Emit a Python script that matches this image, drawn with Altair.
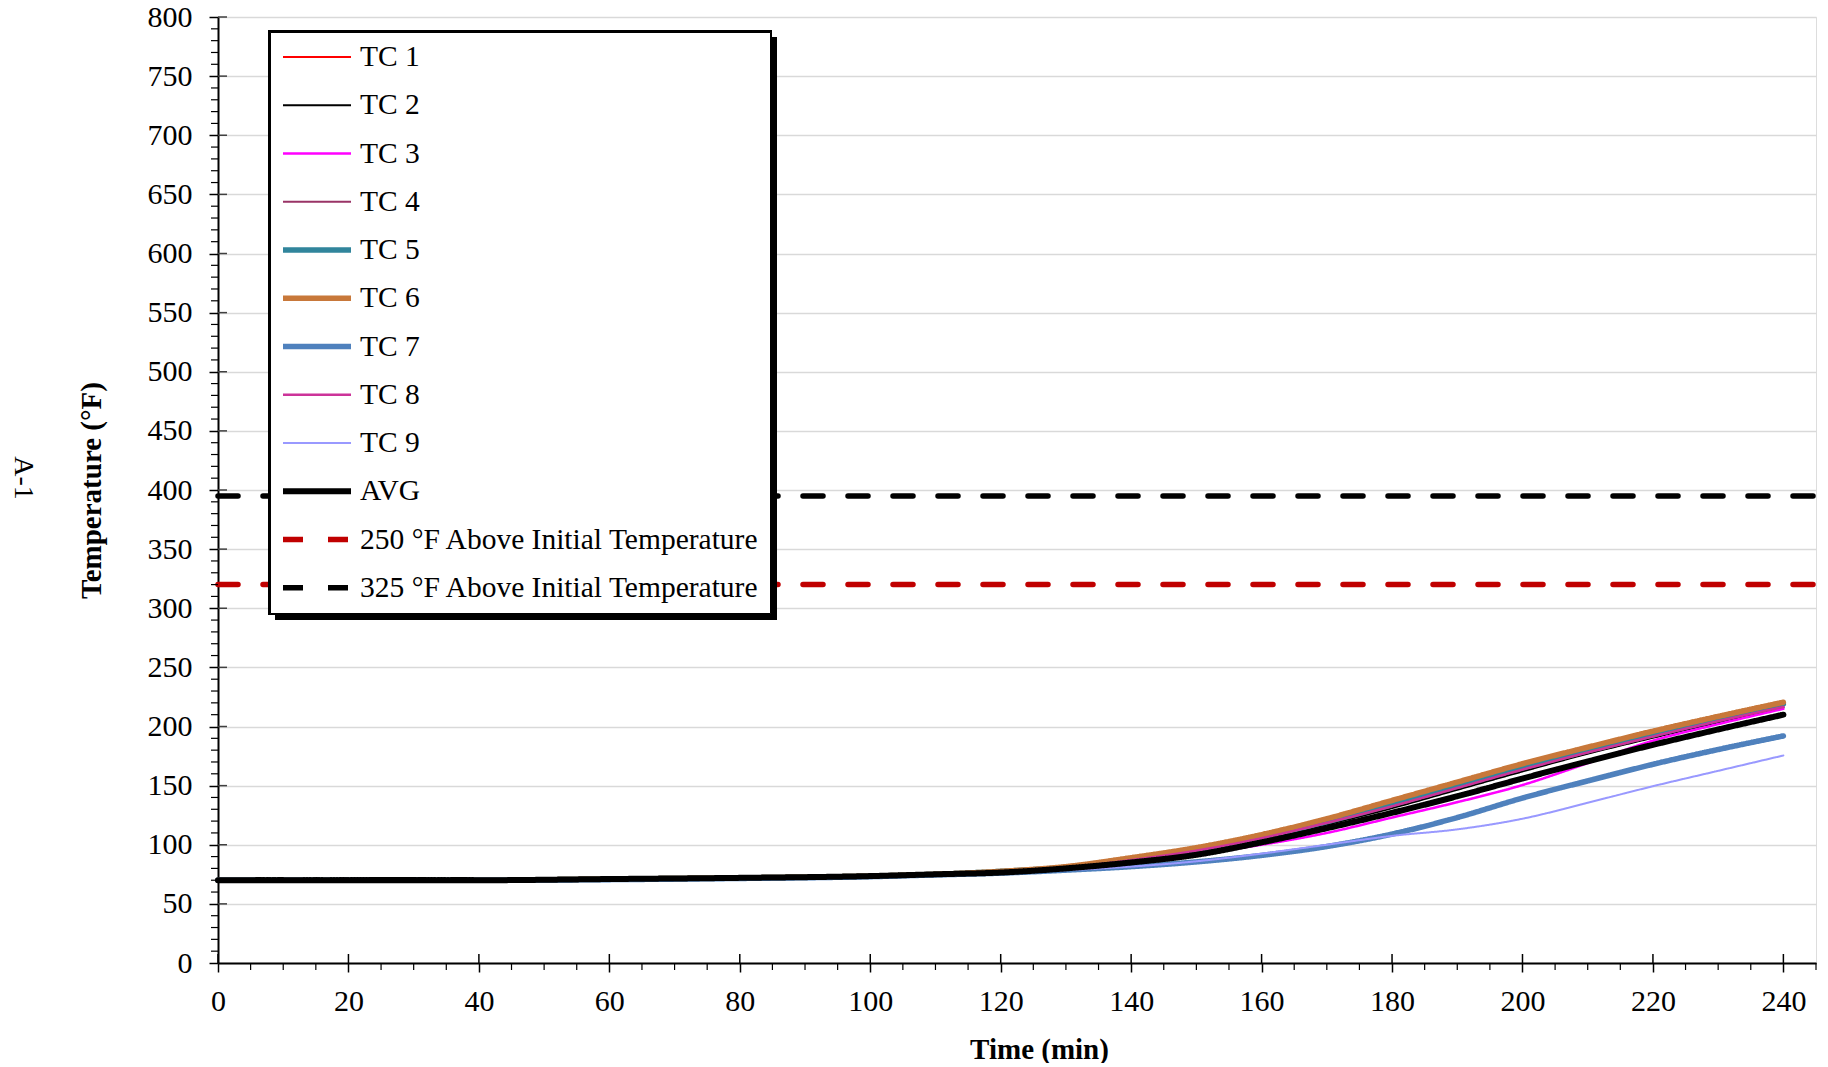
import altair as alt
import pandas as pd

# ---------------- data ----------------
time_min = [0, 20, 40, 60, 80, 100, 110, 120, 130, 140, 150, 160, 170, 180, 190, 200, 210, 220, 230, 240]

tc1 = [70, 70, 70, 71, 72, 73.5, 75, 77, 80.5, 86.5, 94.5, 105, 118, 132, 147.5, 163, 177.5, 191, 204, 216.5]
tc2 = [70, 70, 70, 71, 72, 73.5, 75, 77, 80, 86, 94, 104.5, 117, 131, 146.5, 162, 177, 190.5, 203.5, 216]
tc3 = [70, 70, 70, 71, 72, 73.5, 75, 77, 80, 85, 92, 100, 110, 123, 136, 150.5, 169, 188, 202, 215]
tc4 = [70, 70, 70, 71, 72, 73.5, 75, 77, 80.5, 87, 95, 106, 118.5, 133, 148.5, 164, 178.5, 192, 205, 217.5]
tc5 = [70, 70, 70, 71, 72, 73.5, 75, 77.5, 81, 88, 96, 106.5, 119.5, 134, 149.5, 165, 179.5, 193, 206, 219]
tc6 = [70, 70, 70, 71, 72, 73.5, 75, 77.5, 81.5, 89, 97.5, 108.5, 122, 137.5, 153, 168.5, 182.5, 196, 208.5, 220.5]
tc7 = [70, 70, 70, 70.5, 71.5, 73, 74.5, 76, 78.5, 81.5, 85.5, 91, 98.5, 109, 123, 139.5, 154, 168, 180.5, 192]
tc8 = [70, 70, 70, 71, 72, 73.5, 75, 77, 80.5, 87, 95, 105.5, 118.5, 132.5, 148, 163.5, 178, 191.5, 204.5, 216.5]
tc9 = [70, 70, 70, 70.5, 71.5, 73, 74.5, 76, 78.5, 81.5, 86, 92.5, 100, 107.5, 113, 122, 135.5, 149.5, 162.5, 175.5]
avg = [70, 70, 70, 71, 72, 73.5, 75, 76.5, 80, 85, 91.5, 102, 114, 127, 141, 156, 170.5, 184.5, 197.5, 210]

limit_time = [0, 245]
limit_250 = 320
limit_325 = 395

series_names = ["TC 1", "TC 2", "TC 3", "TC 4", "TC 5", "TC 6", "TC 7", "TC 8", "TC 9", "AVG",
                "250 °F Above Initial Temperature", "325 °F Above Initial Temperature"]
series_colors = ["#ff0000", "#000000", "#ff00ff", "#993366", "#31859c", "#c8783a", "#4f81bd",
                 "#cc3399", "#9999ff", "#000000", "#c00000", "#000000"]
series_widths = [2, 2, 2.5, 2, 5.5, 5.5, 5.5, 2.5, 2, 6, 5.5, 5.5]
series_dash = [[1, 0]] * 10 + [[20, 25], [20, 25]]

y_major = list(range(0, 801, 50))
y_minor = [v for v in range(0, 801, 10) if v % 50 != 0]
x_major = list(range(0, 241, 20))
x_minor = [v for v in range(0, 246, 5) if v % 20 != 0]

# ---------------- tables ----------------
tc_rows = []
for name, vals in zip(series_names[:9], [tc1, tc2, tc3, tc4, tc5, tc6, tc7, tc8, tc9]):
    for t, v in zip(time_min, vals):
        tc_rows.append({"time": t, "temp": v, "series": name})
df_tc = pd.DataFrame(tc_rows)
df_avg = pd.DataFrame({"time": time_min, "temp": avg, "series": "AVG"})
df_lim = pd.DataFrame(
    [{"time": t, "temp": limit_250, "series": series_names[10]} for t in limit_time]
    + [{"time": t, "temp": limit_325, "series": series_names[11]} for t in limit_time]
)

W, H = 1598, 946
FONT = "Liberation Serif"

# legend box (plot-relative pixels) used for the thick frame and shadow
LX, LY = 52, 15
LW, LH = 500, 581

xscale = alt.Scale(domain=[0, 245], nice=False, zero=False)
yscale = alt.Scale(domain=[0, 800], nice=False)

xaxis = alt.Axis(values=x_major, title="Time (min)", grid=False, tickSize=9, tickWidth=1.5,
                 tickColor="black", domainColor="black", domainWidth=2, labelPadding=14,
                 labelFont=FONT, labelFontSize=30, labelColor="black", labelFlush=False,
                 labelOverlap=False,
                 titleFont=FONT, titleFontSize=29, titleFontWeight="bold", titleColor="black",
                 titleX=821, titleY=95, titleBaseline="alphabetic")
yaxis = alt.Axis(values=y_major, title="Temperature (°F)", grid=True, gridColor="#d9d9d9",
                 gridWidth=1.5, tickSize=9, tickWidth=1.5, tickColor="black",
                 domainColor="black", domainWidth=2, labelPadding=17,
                 labelFont=FONT, labelFontSize=30, labelColor="black", labelOverlap=False,
                 titleFont=FONT, titleFontSize=29, titleFontWeight="bold", titleColor="black",
                 titleX=-118, titleY=473, titleBaseline="alphabetic", titleAngle=270)

legend = alt.Legend(title=None, orient="none", legendX=LX, legendY=LY, padding=10,
                    strokeColor="black", fillColor="white",
                    labelFont=FONT, labelFontSize=29.5, labelColor="black", labelLimit=1000,
                    symbolType="stroke", symbolSize=4624, clipHeight=30, rowPadding=18.25,
                    labelOffset=6, direction="vertical")

enc = dict(
    x=alt.X("time:Q", scale=xscale, axis=xaxis),
    y=alt.Y("temp:Q", scale=yscale, axis=yaxis),
    color=alt.Color("series:N", scale=alt.Scale(domain=series_names, range=series_colors), legend=legend),
    strokeDash=alt.StrokeDash("series:N", scale=alt.Scale(domain=series_names, range=series_dash), legend=legend),
    strokeWidth=alt.StrokeWidth("series:N", scale=alt.Scale(type="ordinal", domain=series_names, range=series_widths), legend=legend),
)

tc_layer = alt.Chart(df_tc).mark_line(interpolate="monotone", strokeCap="round", strokeJoin="round").encode(**enc)
avg_layer = alt.Chart(df_avg).mark_line(interpolate="monotone", strokeCap="round", strokeJoin="round").encode(**enc)
lim_layer = alt.Chart(df_lim).mark_line(strokeCap="round").encode(**enc)

# minor ticks and inner parts of major ticks
xminor_layer = alt.Chart(pd.DataFrame({"time": x_minor})).mark_rule(color="black", strokeWidth=1.2).encode(
    x=alt.X("time:Q", scale=xscale, axis=xaxis), y=alt.value(H), y2=alt.value(H + 7))
xinner_layer = alt.Chart(pd.DataFrame({"time": x_major})).mark_rule(color="black", strokeWidth=1.5).encode(
    x=alt.X("time:Q", scale=xscale, axis=xaxis), y=alt.value(H - 9), y2=alt.value(H))
yminor_layer = alt.Chart(pd.DataFrame({"temp": y_minor})).mark_rule(color="black", strokeWidth=1.2).encode(
    y=alt.Y("temp:Q", scale=yscale, axis=yaxis), x=alt.value(-7), x2=alt.value(0))
yinner_layer = alt.Chart(pd.DataFrame({"temp": y_major[1:]})).mark_rule(color="#404040", strokeWidth=1.5).encode(
    y=alt.Y("temp:Q", scale=yscale, axis=yaxis), x=alt.value(0), x2=alt.value(9))

# legend frame: shadow + thick border (drawn under the legend)
frame_df = pd.DataFrame({"k": ["frame"]})
shadow_layer = alt.Chart(frame_df).mark_rect(color="black").encode(
    x=alt.value(LX + 5), x2=alt.value(LX + LW + 7), y=alt.value(LY + 5), y2=alt.value(LY + LH + 7))
border_layer = alt.Chart(frame_df).mark_rect(color="black").encode(
    x=alt.value(LX - 2), x2=alt.value(LX + LW + 2), y=alt.value(LY - 2), y2=alt.value(LY + LH + 2))

side_text = alt.Chart(pd.DataFrame({"txt": ["A-1"]})).mark_text(
    angle=90, font=FONT, fontSize=28, align="center", baseline="middle", color="black"
).encode(text="txt:N", x=alt.value(23 - 218), y=alt.value(478 - 17))

chart = alt.layer(
    yinner_layer, tc_layer, avg_layer, lim_layer, xminor_layer, xinner_layer, yminor_layer,
    shadow_layer, border_layer, side_text
).properties(
    width=W, height=H,
    padding={"left": 210, "top": 9, "right": 4, "bottom": 100},
    autosize=alt.AutoSizeParams(type="none"),
).configure_view(
    stroke="#868686", strokeWidth=1.5
).configure(background="white")

chart.save("out.html", embed_options={"renderer": "svg", "actions": False})
